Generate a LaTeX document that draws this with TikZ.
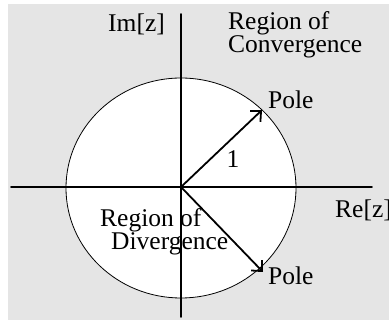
\documentclass[tikz,border=0pt]{standalone}
\usepackage{fontspec}
\setmainfont{Liberation Serif}
\usetikzlibrary{arrows.meta}
\begin{document}
\begin{tikzpicture}[x=1pt, y=-1pt, font=\fontsize{25.5}{21.5}\selectfont, line join=round, line cap=round, >={Straight Barb[length=8pt,width=15pt]}]
	\useasboundingbox (0,0) rectangle (389,320);
	\fill[gray!20] (8,4) rectangle (389,320);
	\draw[fill=white, line width=0.8pt] (181,188) ellipse (115 and 110);
	\coordinate (O) at (181,187);
	\coordinate (P1) at (262,110);
	\coordinate (P2) at (263,272);
	\draw[line width=1.8pt] (11,187) -- (372,187);
	\draw[line width=1.8pt] (181,14) -- (181,317);
	\foreach \p in {P1,P2} \draw[->, line width=1.8pt] (O) -- (\p);
	\node[anchor=base west, inner sep=0pt] (pole1) at (268,109) {Pole};
	\node[anchor=base west, inner sep=0pt] (pole2) at (268,285) {Pole};
	\node[anchor=base, inner sep=0pt] (one) at (233,168) {1};
	\node[anchor=base west, inner sep=0pt] (re) at (335,218) {Re[z]};
	\node[anchor=base west, inner sep=0pt] (im) at (108,32) {Im[z]};
	\node[anchor=base west, inner sep=0pt, align=left] (conv) at (228,53) {Region of\\Convergence};
	\node[anchor=base west, inner sep=0pt, align=left] (div) at (100,250) {Region of\\\hspace*{11pt}Divergence};
\end{tikzpicture}
\end{document}
